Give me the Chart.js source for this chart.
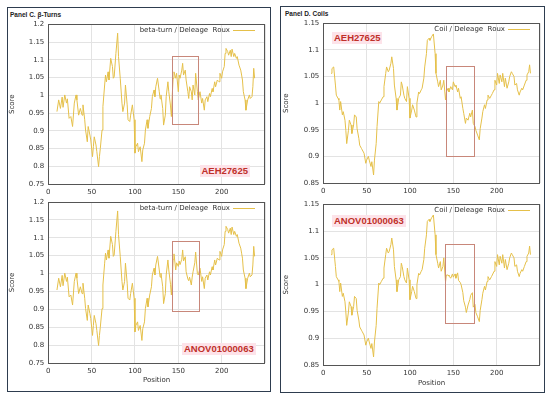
<!DOCTYPE html>
<html><head><meta charset="utf-8">
<script src="https://cdn.jsdelivr.net/npm/chart.js@4"></script>
<style>
html,body{margin:0;padding:0;background:#fff;}
body{width:550px;height:396px;position:relative;overflow:hidden;font-family:'Liberation Sans',Arial,sans-serif;}
.frame{position:absolute;border:1px solid #2e3d4f;box-sizing:border-box;}
.ptitle{position:absolute;font-weight:bold;font-size:6.5px;color:#222;white-space:nowrap;line-height:8px;}
.tag{position:absolute;font-weight:bold;font-size:9.5px;line-height:12px;color:#c0302a;background:#fde3e9;padding:0 2px;white-space:nowrap;}
canvas{position:absolute;}
</style></head><body>
<div class="frame" style="left:7px;top:7px;width:264px;height:385px"></div>
<div class="frame" style="left:280px;top:6px;width:265px;height:387px"></div>
<div class="ptitle" style="left:10px;top:10.5px">Panel C. β-Turns</div>
<div class="ptitle" style="left:285px;top:9.7px">Panel D. Coils</div>
<canvas id="c1" width="262" height="190" style="left:8px;top:8px"></canvas>
<canvas id="c2" width="262" height="200" style="left:8px;top:190px"></canvas>
<canvas id="c3" width="262" height="190" style="left:282px;top:8px"></canvas>
<canvas id="c4" width="262" height="200" style="left:282px;top:190px"></canvas>
<div class="tag" style="left:199.5px;top:164.7px">AEH27625</div>
<div class="tag" style="left:182px;top:343px">ANOV01000063</div>
<div class="tag" style="left:332px;top:31.7px">AEH27625</div>
<div class="tag" style="left:332px;top:214.7px">ANOV01000063</div>
<script>
// ---- Panel C: beta-turn ----
const betaPos = [
 10,12,14,16,17,19,21,22,24,26,
 28,30,32,33,35,37,39,40,42,43,
 45,46,48,49,51,52,53,55,56,58,
 59,60,62,63,65,66,67,69,70,72,
 74,75,76,78,80,81,83,85,86,88,
 89,91,92,94,95,97,99,100,101,103,
 104,106,108,109,111,112,114,115,117,119,
 120,122,123,124,126,128,129,130,132,133,
 135,136,138,139,141,142,143,144,145,147,
 148,150,151,152,154,155,156,158,159,161,
 162,163,165,166,167,169,170,172,173,175,
 177,178,180,181,183,184,186,187,189,190,
 192,193,195,197,198,200,201,203,204,205,
 207,208,210,211,212,214,215,217,218,220,
 222,223,224,225,227,228,230,232,233,235,
 236,237,238];
const betaTop = [
 0.954,0.987,0.963,0.995,0.966,1.001,0.978,0.99,0.935,0.94,
 0.912,0.978,1.001,0.987,0.944,0.963,0.944,0.973,0.931,0.902,
 0.869,0.912,0.888,0.874,0.827,0.855,0.883,0.86,0.841,0.799,
 0.827,0.85,0.902,0.968,1.029,1.057,1.038,1.066,1.043,1.104,
 1.081,1.048,1.052,1.118,1.175,1.109,1.048,0.978,0.954,0.978,
 1.029,0.973,0.931,0.926,0.944,0.973,0.931,0.837,0.855,0.865,
 0.841,0.855,0.813,0.846,0.865,0.902,0.931,0.907,0.94,0.963,
 0.996,1.015,0.996,1.024,1.048,1.01,0.99,1.001,0.963,0.916,
 0.944,0.996,1.038,1.01,0.97,0.94,1.0,1.048,1.066,1.048,
 1.062,1.01,1.057,1.048,1.071,1.09,1.057,1.071,1.043,1.01,
 0.991,1.024,1.01,0.987,1.029,1.001,1.062,1.01,0.987,1.01,
 0.978,0.991,0.958,0.987,0.996,0.982,1.005,0.996,1.019,1.01,
 1.038,1.024,1.043,1.038,1.062,1.048,1.066,1.081,1.118,1.132,
 1.123,1.113,1.127,1.109,1.13,1.109,1.118,1.104,1.109,1.085,
 1.071,1.057,1.043,1.01,0.987,0.958,0.987,1.001,0.991,0.996,
 1.024,1.076,1.048];
const betaBottom = [
 0.954,0.987,0.963,0.995,0.966,1.001,0.978,0.99,0.935,0.94,
 0.912,0.978,1.001,0.987,0.944,0.963,0.944,0.973,0.931,0.902,
 0.869,0.912,0.888,0.874,0.827,0.855,0.883,0.86,0.841,0.799,
 0.827,0.85,0.902,0.968,1.029,1.057,1.038,1.066,1.043,1.104,
 1.081,1.048,1.052,1.118,1.175,1.109,1.048,0.978,0.954,0.978,
 1.029,0.973,0.931,0.926,0.944,0.973,0.931,0.837,0.855,0.865,
 0.841,0.855,0.813,0.846,0.865,0.902,0.931,0.907,0.94,0.963,
 0.996,1.015,0.996,1.024,1.048,1.01,0.99,1.001,0.963,0.916,
 0.944,0.996,1.038,1.01,0.97,0.94,0.98,1.04,1.055,1.01,
 1.03,1.02,1.035,1.025,1.04,1.066,1.035,1.047,1.005,0.985,
 0.98,0.99,0.968,0.99,1.005,1.03,1.06,1.0,0.996,1.015,
 0.978,0.991,0.958,0.987,0.996,0.982,1.005,0.996,1.019,1.01,
 1.038,1.024,1.043,1.038,1.062,1.048,1.066,1.081,1.118,1.132,
 1.123,1.113,1.127,1.109,1.13,1.109,1.118,1.104,1.109,1.085,
 1.071,1.057,1.043,1.01,0.987,0.958,0.987,1.001,0.991,0.996,
 1.024,1.076,1.048];
// ---- Panel D: coil ----
const coilPos = [
 9,10,12,14,15,17,18,19,20,22,
 23,25,26,27,29,30,32,33,35,36,
 38,39,41,42,44,45,47,49,50,52,
 53,55,56,58,59,61,62,64,65,67,
 69,70,72,73,75,76,78,79,81,82,
 84,85,87,89,90,91,93,94,96,97,
 99,100,102,103,105,107,108,110,111,113,
 114,116,117,119,120,122,123,125,127,129,
 130,132,133,135,136,138,139,141,142,144,
 145,147,149,150,152,153,155,156,158,159,
 161,162,164,165,167,169,170,172,173,175,
 176,178,180,181,183,184,186,187,189,190,
 192,194,195,197,198,200,201,203,204,206,
 207,209,210,212,214,215,217,218,220,221,
 223,224,226,227,229,230,232,234,235,237,
 238,239];
const coilTop = [
 1.056,1.065,1.068,1.034,1.015,1.009,1.006,0.987,1.003,0.978,
 0.984,0.968,0.949,0.924,0.949,0.968,0.959,0.943,0.959,0.978,
 0.974,0.952,0.934,0.921,0.915,0.912,0.906,0.887,0.893,0.9,
 0.893,0.881,0.89,0.865,0.893,0.924,0.956,1.003,1.0,1.006,
 1.012,1.031,1.056,1.068,1.059,1.062,1.075,1.087,1.065,1.034,
 1.009,0.987,1.009,1.015,1.04,1.034,1.015,1.009,1.003,1.031,
 1.009,0.972,0.987,0.997,0.987,0.974,1.0,1.021,1.018,1.025,
 1.028,1.047,1.068,1.093,1.118,1.122,1.118,1.125,1.13,1.093,
 1.056,1.04,1.031,1.043,1.025,1.034,1.043,1.006,1.021,1.028,
 1.021,1.031,1.025,1.04,1.031,1.034,1.021,1.028,1.009,1.012,
 0.99,0.981,0.962,0.972,0.968,0.981,0.974,0.987,0.962,0.956,
 0.949,0.94,0.931,0.952,0.972,0.984,0.997,0.99,1.006,1.015,
 1.009,1.015,1.018,1.025,1.043,1.034,1.056,1.037,1.053,1.04,
 1.056,1.031,1.047,1.028,1.04,1.05,1.059,1.056,1.05,1.034,
 1.037,1.025,1.015,1.021,1.028,1.025,1.034,1.043,1.053,1.059,
 1.072,1.056];
const coilBottom = [
 1.056,1.065,1.068,1.034,1.015,1.009,1.006,0.987,1.003,0.978,
 0.984,0.968,0.949,0.924,0.949,0.968,0.959,0.943,0.959,0.978,
 0.974,0.952,0.934,0.921,0.915,0.912,0.906,0.887,0.893,0.9,
 0.893,0.881,0.89,0.865,0.893,0.924,0.956,1.003,1.0,1.006,
 1.012,1.031,1.056,1.068,1.059,1.062,1.075,1.087,1.065,1.034,
 1.009,0.987,1.009,1.015,1.04,1.034,1.015,1.009,1.003,1.031,
 1.009,0.972,0.987,0.997,0.987,0.974,1.0,1.021,1.018,1.025,
 1.028,1.047,1.068,1.093,1.118,1.122,1.118,1.125,1.13,1.093,
 1.056,1.04,1.031,1.043,1.025,1.034,1.05,1.005,1.018,1.018,
 1.016,1.012,1.02,1.014,1.02,1.012,1.022,1.008,1.004,1.0,
 0.985,0.97,0.958,0.948,0.962,0.972,0.98,0.985,0.958,0.963,
 0.948,0.94,0.931,0.952,0.972,0.984,0.997,0.99,1.006,1.015,
 1.009,1.015,1.018,1.025,1.043,1.034,1.056,1.037,1.053,1.04,
 1.056,1.031,1.047,1.028,1.04,1.05,1.059,1.056,1.05,1.034,
 1.037,1.025,1.015,1.021,1.028,1.025,1.034,1.043,1.053,1.059,
 1.072,1.056];
// highlight boxes: [xStart, xEnd, yLow, yHigh]
const betaTopBox = [143, 173, 0.92, 1.11];
const betaBottomBox = [143, 174, 0.896, 1.09];
const coilTopBox = [141, 174, 0.90, 1.07];
const coilBottomBox = [140, 174, 0.928, 1.075];
const betaLabel = 'beta-turn / Deleage  Roux';
const coilLabel = 'Coil / Deleage  Roux';
const xTicks = [0, 50, 100, 150, 200];

const decor = {
  id: 'decor',
  afterDatasetsDraw(chart, args, opts) {
    const {ctx, chartArea: a, scales: {x, y}} = chart;
    const b = opts.box;
    ctx.save();
    ctx.strokeStyle = '#c8877a'; ctx.lineWidth = 1;
    const x0 = Math.round(x.getPixelForValue(b[0])), x1 = Math.round(x.getPixelForValue(b[1]));
    const y0 = Math.round(y.getPixelForValue(b[3])), y1 = Math.round(y.getPixelForValue(b[2]));
    ctx.strokeRect(x0 + 0.5, y0 + 0.5, x1 - x0, y1 - y0);
    ctx.strokeStyle = '#555';
    const L = Math.round(a.left), T = Math.round(a.top), R = Math.round(a.right), B = Math.round(a.bottom);
    ctx.strokeRect(L + 0.5, T + 0.5, R - L - 1, B - T);
    const ds = chart.data.datasets[0];
    ctx.font = '7px "DejaVu Sans"';
    ctx.fillStyle = '#333'; ctx.textAlign = 'right'; ctx.textBaseline = 'middle';
    const ly = Math.round(a.top + 6);
    ctx.fillText(ds.label, a.right - 35, ly);
    ctx.strokeStyle = ds.borderColor;
    ctx.beginPath(); ctx.moveTo(a.right - 32, ly + 0.5); ctx.lineTo(a.right - 10, ly + 0.5); ctx.stroke();
    ctx.restore();
  }
};

function make(id, pos, vals, label, yMin, yMax, box, xTitle, pad, yW, xH, tpb) {
  const f = {family: 'DejaVu Sans', size: 7};
  new Chart(document.getElementById(id), {
    type: 'line',
    data: {datasets: [{label, data: pos.map((p, i) => ({x: p, y: vals[i]})),
      borderColor: '#e5c04a', borderWidth: 1, pointRadius: 0, tension: 0, fill: false}]},
    options: {
      responsive: false, animation: false, layout: {padding: pad},
      plugins: {legend: {display: false}, tooltip: {enabled: false}, decor: {box}},
      scales: {
        x: {type: 'linear', min: 0, max: 250, afterFit(s) { s.height = xH; },
          afterBuildTicks(s) { s.ticks = xTicks.concat([250]).map(v => ({value: v})); },
          ticks: {padding: 4, color: '#333', font: f, maxRotation: 0, autoSkip: false,
            callback: v => xTicks.includes(v) ? String(v) : ''},
          grid: {color: '#e3e3e3', drawTicks: false}, border: {display: false},
          title: {display: !!xTitle, text: xTitle || '', color: '#333', font: f, padding: {top: 0, bottom: tpb}}},
        y: {min: yMin, max: yMax, afterFit(s) { s.width = yW; },
          ticks: {stepSize: 0.05, padding: 4, color: '#333', font: f, autoSkip: false,
            callback: v => String(Number(v.toFixed(2)))},
          grid: {color: '#e3e3e3', drawTicks: false}, border: {display: false},
          title: {display: true, text: 'Score', color: '#333', font: f, padding: 0}}
      }
    },
    plugins: [decor]
  });
}

make('c1', betaPos, betaTop, betaLabel, 0.75, 1.2, betaTopBox, null, {top: 16.3, right: 5, left: 0, bottom: 0}, 40.3, 14, 0);
make('c2', betaPos, betaBottom, betaLabel, 0.75, 1.2, betaBottomBox, 'Position', {top: 12, right: 5, left: 0, bottom: 0}, 40.3, 27, 6);
make('c3', coilPos, coilTop, coilLabel, 0.85, 1.15, coilTopBox, null, {top: 15.3, right: 4, left: 0, bottom: 0}, 41.3, 15, 0);
make('c4', coilPos, coilBottom, coilLabel, 0.85, 1.15, coilBottomBox, 'Position', {top: 14.3, right: 4, left: 0, bottom: 0}, 41.3, 25, 3);
</script>
</body></html>
